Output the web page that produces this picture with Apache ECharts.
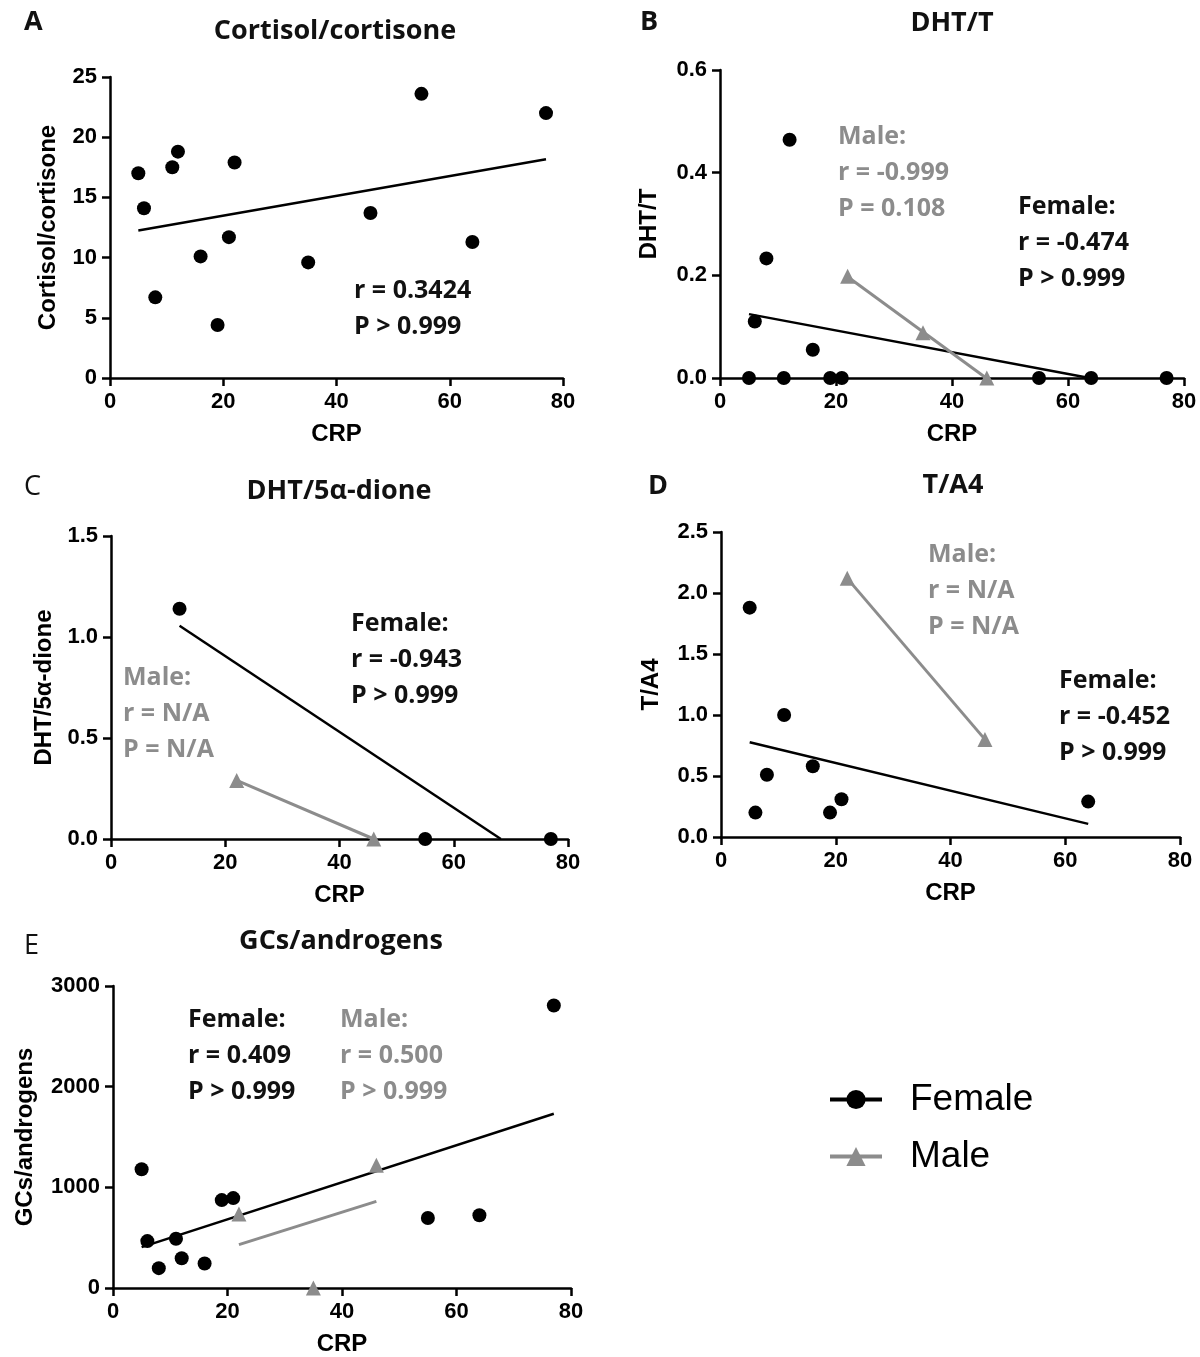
<!DOCTYPE html>
<html><head><meta charset="utf-8">
<script src="https://cdn.jsdelivr.net/npm/echarts@6/dist/echarts.min.js"></script>
<style>html,body{margin:0;padding:0;background:#fff}#c{width:1200px;height:1357px}</style>
</head><body><div id="c"></div><script>
// ---------- DATA ----------
// Panel A: all subjects
const crpA   = [5, 6, 8, 11, 12, 16, 19, 21, 22, 35, 46, 55, 64, 77];
const ratioA = [17.0, 14.1, 6.7, 17.5, 18.8, 10.1, 4.4, 11.7, 17.9, 9.6, 13.7, 23.6, 11.3, 22.0];
// Panel B: DHT/T
const crpBF = [5, 6, 8, 11, 12, 16, 19, 21, 55, 64, 77];
const valBF = [0, 0.11, 0.233, 0, 0.464, 0.055, 0, 0, 0, 0, 0];
const crpBM = [22, 35, 46];
const valBM = [0.198, 0.088, 0];
// Panel C: DHT/5a-dione
const crpCF = [12, 55, 77];
const valCF = [1.14, 0, 0];
const crpCM = [22, 46];
const valCM = [0.29, 0];
// Panel D: T/A4
const crpDF = [5, 6, 8, 11, 16, 19, 21, 64];
const valDF = [1.88, 0.2, 0.51, 1.0, 0.58, 0.2, 0.31, 0.29];
const crpDM = [22, 46];
const valDM = [2.12, 0.8];
// Panel E: GCs/androgens
const crpEF = [5, 6, 8, 11, 12, 16, 19, 21, 55, 64, 77];
const valEF = [1180, 466, 197, 489, 295, 243, 873, 893, 696, 722, 2806];
const crpEM = [22, 35, 46];
const valEM = [735, 0, 1220];

const xTicks = {min: 0, max: 80, interval: 20};
const yScales = [
  {min: 0, max: 25, interval: 5, dec: 0},
  {min: 0, max: 0.6, interval: 0.2, dec: 1},
  {min: 0, max: 1.5, interval: 0.5, dec: 1},
  {min: 0, max: 2.5, interval: 0.5, dec: 1},
  {min: 0, max: 3000, interval: 1000, dec: 0}
];
const yNames = ['Cortisol/cortisone', 'DHT/T', 'DHT/5\u03b1-dione', 'T/A4', 'GCs/androgens'];
const titles = ['Cortisol/cortisone', 'DHT/T', 'DHT/5\u03b1-dione', 'T/A4', 'GCs/androgens'];
const letters = ['A', 'B', 'C', 'D', 'E'];

// ---------- STYLE / LAYOUT ----------
const BLACK = '#000000', GREY = '#8c8c8c';
const grids = [
  {left: 110, top: 77, width: 453, height: 301},
  {left: 720, top: 70, width: 464, height: 308},
  {left: 111, top: 536, width: 457, height: 303},
  {left: 721, top: 532, width: 459, height: 305},
  {left: 113, top: 986, width: 458, height: 305}
];
const yNameGaps = [50, 59, 55, 58, 76];

function pairs(xs, ys) { return xs.map((x, i) => [x, ys[i]]); }
// least-squares fit line across the data's x range, clipped at y = 0
function fitLine(xs, ys) {
  const n = xs.length;
  const mx = xs.reduce((a, b) => a + b, 0) / n;
  const my = ys.reduce((a, b) => a + b, 0) / n;
  let sxy = 0, sxx = 0;
  for (let i = 0; i < n; i++) { sxy += (xs[i] - mx) * (ys[i] - my); sxx += (xs[i] - mx) * (xs[i] - mx); }
  const b = sxy / sxx, a = my - b * mx;
  let x1 = Math.min(...xs), x2 = Math.max(...xs);
  let y1 = a + b * x1, y2 = a + b * x2;
  if (y1 < 0) { x1 = -a / b; y1 = 0; }
  if (y2 < 0) { x2 = -a / b; y2 = 0; }
  return [[x1, y1], [x2, y2]];
}

const labelFont = {fontFamily: 'Liberation Sans', fontWeight: 'bold', color: '#000'};
const xAxes = grids.map((g, i) => ({
  type: 'value', gridIndex: i, min: xTicks.min, max: xTicks.max, interval: xTicks.interval,
  axisLine: {onZero: false, lineStyle: {color: BLACK, width: 2.5}},
  axisTick: {length: 8, lineStyle: {color: BLACK, width: 2.5}},
  splitLine: {show: false},
  axisLabel: Object.assign({fontSize: 22, margin: 13}, labelFont),
  name: 'CRP', nameLocation: 'middle', nameGap: 44,
  nameTextStyle: Object.assign({fontSize: 24}, labelFont)
}));
const yAxes = grids.map((g, i) => ({
  type: 'value', gridIndex: i, min: yScales[i].min, max: yScales[i].max, interval: yScales[i].interval,
  axisLine: {show: true, onZero: false, lineStyle: {color: BLACK, width: 2.5}},
  axisTick: {show: true, length: 8, lineStyle: {color: BLACK, width: 2.5}},
  splitLine: {show: false},
  axisLabel: Object.assign({fontSize: 22, margin: 13, formatter: v => v.toFixed(yScales[i].dec)}, labelFont),
  name: yNames[i], nameLocation: 'middle', nameGap: yNameGaps[i], nameRotate: 90,
  nameTextStyle: Object.assign({fontSize: 24}, labelFont)
}));

function lineSeries(name, idx, pts, color, symbol, width) {
  return {type: 'line', name: name, xAxisIndex: idx, yAxisIndex: idx, data: pts,
    symbol: symbol, showSymbol: false, clip: false, silent: true, z: 3,
    lineStyle: {color: color, width: width}, itemStyle: {color: color},
    emphasis: {disabled: true}};
}
function scatterSeries(name, idx, pts, color, symbol, size) {
  return {type: 'scatter', name: name, xAxisIndex: idx, yAxisIndex: idx, data: pts,
    symbol: symbol, symbolSize: size, clip: false, silent: true, z: 4,
    itemStyle: {color: color, opacity: 1}, emphasis: {disabled: true}};
}

const series = [
  // legend icons come from the first series of each name
  lineSeries('Female', 1, fitLine(crpBF, valBF), BLACK, 'circle', 2.5),
  lineSeries('Male', 1, fitLine(crpBM, valBM), GREY, 'triangle', 3),
  lineSeries('All', 0, fitLine(crpA, ratioA), BLACK, 'circle', 2.5),
  scatterSeries('All', 0, pairs(crpA, ratioA), BLACK, 'circle', 14),
  scatterSeries('Female', 1, pairs(crpBF, valBF), BLACK, 'circle', 14),
  scatterSeries('Male', 1, pairs(crpBM, valBM), GREY, 'triangle', 15),
  lineSeries('Female', 2, fitLine(crpCF, valCF), BLACK, 'circle', 2.5),
  lineSeries('Male', 2, fitLine(crpCM, valCM), GREY, 'triangle', 3),
  scatterSeries('Female', 2, pairs(crpCF, valCF), BLACK, 'circle', 14),
  scatterSeries('Male', 2, pairs(crpCM, valCM), GREY, 'triangle', 15),
  lineSeries('Female', 3, fitLine(crpDF, valDF), BLACK, 'circle', 2.5),
  lineSeries('Male', 3, fitLine(crpDM, valDM), GREY, 'triangle', 3),
  scatterSeries('Female', 3, pairs(crpDF, valDF), BLACK, 'circle', 14),
  scatterSeries('Male', 3, pairs(crpDM, valDM), GREY, 'triangle', 15),
  lineSeries('Female', 4, fitLine(crpEF, valEF), BLACK, 'circle', 2.5),
  lineSeries('Male', 4, fitLine(crpEM, valEM), GREY, 'triangle', 3),
  scatterSeries('Female', 4, pairs(crpEF, valEF), BLACK, 'circle', 14),
  scatterSeries('Male', 4, pairs(crpEM, valEM), GREY, 'triangle', 15)
];

// ---------- TEXT ----------
const graphics = [];
function txt(text, x, y, font, color, align) {
  graphics.push({type: 'text', x: x, y: y, silent: true,
    style: {text: text, font: font, fill: color, align: align || 'left', verticalAlign: 'middle'}});
}
const titleFont = 'bold 27px "Open Sans"';
const titlePos = [[335, 31], [952, 23], [339, 491], [953, 485], [341, 941]];
titles.forEach((t, i) => txt(t, titlePos[i][0], titlePos[i][1], titleFont, '#111', 'center'));
const letterPos = [[24, 22, 'bold'], [640, 22, 'bold'], [24, 487, 'normal'], [648, 486, 'bold'], [24, 946, 'normal']];
letters.forEach((l, i) => txt(l, letterPos[i][0], letterPos[i][1], letterPos[i][2] + ' 27px "Open Sans"', '#111'));

const annFont = 'bold 25px "Open Sans"';
function block(lines, x, y0, color) { lines.forEach((s, k) => txt(s, x, y0 + k * 36, annFont, color)); }
block(['r = 0.3424', 'P > 0.999'], 354, 291, '#111');
block(['Male:', 'r = -0.999', 'P = 0.108'], 838, 137, GREY);
block(['Female:', 'r = -0.474', 'P > 0.999'], 1018, 207, '#111');
block(['Female:', 'r = -0.943', 'P > 0.999'], 351, 624, '#111');
block(['Male:', 'r = N/A', 'P = N/A'], 123, 678, GREY);
block(['Male:', 'r = N/A', 'P = N/A'], 928, 555, GREY);
block(['Female:', 'r = -0.452', 'P > 0.999'], 1059, 681, '#111');
block(['Female:', 'r = 0.409', 'P > 0.999'], 188, 1020, '#111');
block(['Male:', 'r = 0.500', 'P > 0.999'], 340, 1020, GREY);

const chart = echarts.init(document.getElementById('c'), null, {renderer: 'canvas'});
chart.setOption({
  animation: false,
  backgroundColor: '#fff',
  grid: grids.map(g => Object.assign({containLabel: false}, g)),
  xAxis: xAxes,
  yAxis: yAxes,
  legend: {
    data: ['Female', 'Male'], orient: 'vertical', left: 828, top: 1081, padding: 0,
    itemWidth: 52, itemHeight: 24, itemGap: 20,
    lineStyle: {width: 4},
    textStyle: {fontSize: 37, fontFamily: 'Liberation Sans', color: '#000', padding: [0, 0, 0, 23]},
    selectedMode: false
  },
  series: series,
  graphic: graphics
});
</script></body></html>
